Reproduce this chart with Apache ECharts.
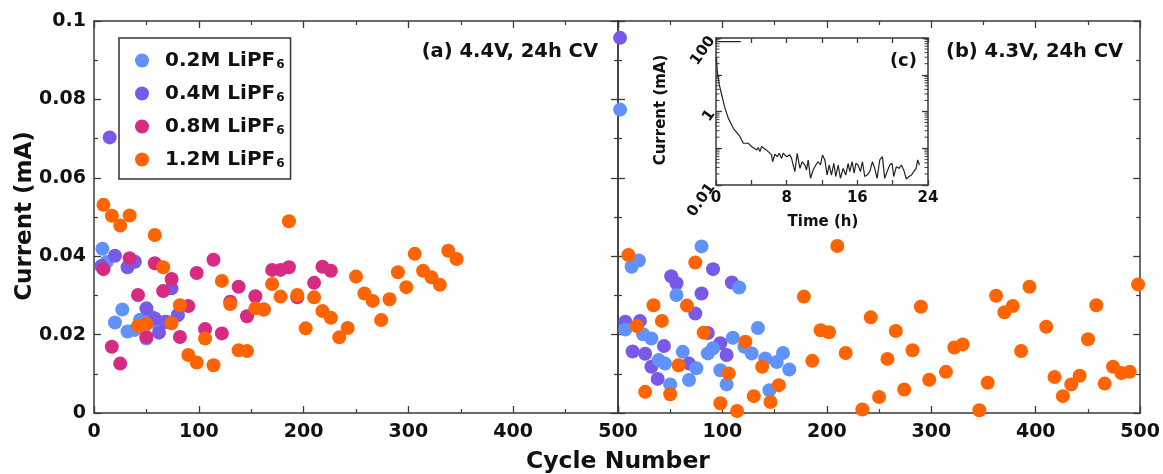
<!DOCTYPE html>
<html>
<head>
<meta charset="utf-8">
<script src="https://cdn.jsdelivr.net/npm/echarts@6/dist/echarts.min.js"></script>
<style>
  html, body { margin: 0; padding: 0; background: #fff; }
  #chart { width: 1163px; height: 474px; }
</style>
</head>
<body>
<div id="chart"></div>
<script>
const FONT = 'DejaVu Sans';
const INK = '#111';
const AXIS = '#3a3a3a';

const seriesNames = ['0.2M LiPF6', '0.4M LiPF6', '0.8M LiPF6', '1.2M LiPF6'];
const seriesColors = ['#5f92fa', '#7859e8', '#d72a82', '#ff6400'];

// (a) 4.4 V, 24 h CV hold: leakage current per cycle
const a02Cycle = [8, 12, 20, 27, 32, 39, 44, 50, 55, 62, 70, 80];
const a02Current = [0.0419, 0.0385, 0.0231, 0.0264, 0.0208, 0.0212, 0.0238, 0.0190, 0.0245, 0.0220, 0.0232, 0.0250];
const a04Cycle = [7, 15, 20, 32, 39, 50, 58, 62, 68, 74, 80];
const a04Current = [0.0375, 0.0703, 0.0401, 0.0372, 0.0386, 0.0267, 0.0241, 0.0205, 0.0233, 0.0318, 0.0250];
const a08Cycle = [9, 17, 25, 34, 42, 50, 58, 66, 74, 82, 90, 98, 106, 114, 122, 130, 138, 146, 154, 162, 170, 178, 186, 194, 210, 218, 226];
const a08Current = [0.0367, 0.0169, 0.0126, 0.0395, 0.0301, 0.0194, 0.0382, 0.0311, 0.0342, 0.0194, 0.0273, 0.0357, 0.0214, 0.0391, 0.0203, 0.0284, 0.0322, 0.0247, 0.0298, 0.0264, 0.0365, 0.0365, 0.0372, 0.0295, 0.0332, 0.0373, 0.0363];
const a12Cycle = [9, 17, 25, 34, 42, 50, 58, 66, 74, 82, 90, 98, 106, 114, 122, 130, 138, 146, 154, 162, 170, 178, 186, 194, 202, 210, 218, 226, 234, 242, 250, 258, 266, 274, 282, 290, 298, 306, 314, 322, 330, 338, 346];
const a12Current = [0.0531, 0.0503, 0.0478, 0.0504, 0.0222, 0.0227, 0.0454, 0.0372, 0.0229, 0.0275, 0.0148, 0.0129, 0.0190, 0.0122, 0.0337, 0.0278, 0.0160, 0.0158, 0.0267, 0.0264, 0.0329, 0.0297, 0.0489, 0.0301, 0.0216, 0.0295, 0.0260, 0.0243, 0.0193, 0.0217, 0.0348, 0.0305, 0.0286, 0.0237, 0.0290, 0.0359, 0.0321, 0.0406, 0.0363, 0.0346, 0.0327, 0.0414, 0.0393];

// (b) 4.3 V, 24 h CV hold
const b02Cycle = [2, 7, 13, 20, 24, 32, 39, 45, 50, 56, 62, 68, 75, 80, 86, 91, 98, 104, 110, 116, 121, 128, 134, 141, 145, 152, 158, 164];
const b02Current = [0.0774, 0.0213, 0.0373, 0.0389, 0.0201, 0.0190, 0.0135, 0.0126, 0.0073, 0.0301, 0.0156, 0.0084, 0.0114, 0.0425, 0.0152, 0.0165, 0.0109, 0.0073, 0.0192, 0.0320, 0.0169, 0.0152, 0.0217, 0.0139, 0.0058, 0.0130, 0.0153, 0.0111];
const b04Cycle = [2, 7, 14, 21, 26, 32, 38, 44, 51, 56, 68, 74, 80, 86, 91, 98, 104, 109];
const b04Current = [0.0957, 0.0233, 0.0157, 0.0235, 0.0151, 0.0118, 0.0087, 0.0171, 0.0349, 0.0331, 0.0126, 0.0254, 0.0305, 0.0204, 0.0367, 0.0178, 0.0148, 0.0333];
const b12Cycle = [10, 18, 26, 34, 42, 50, 58, 66, 74, 82, 98, 106, 114, 122, 130, 138, 146, 154, 178, 186, 194, 202, 210, 218, 234, 242, 250, 258, 266, 274, 282, 290, 298, 314, 322, 330, 346, 354, 362, 370, 378, 386, 394, 410, 418, 426, 434, 442, 450, 458, 466, 474, 482, 490, 498];
const b12Current = [0.0403, 0.0222, 0.0054, 0.0275, 0.0235, 0.0048, 0.0122, 0.0274, 0.0384, 0.0205, 0.0025, 0.0101, 0.0005, 0.0182, 0.0043, 0.0118, 0.0028, 0.0071, 0.0297, 0.0133, 0.0211, 0.0206, 0.0426, 0.0153, 0.0009, 0.0244, 0.0041, 0.0138, 0.0209, 0.0060, 0.0160, 0.0271, 0.0085, 0.0105, 0.0167, 0.0175, 0.0007, 0.0077, 0.0299, 0.0257, 0.0273, 0.0158, 0.0322, 0.0220, 0.0092, 0.0043, 0.0073, 0.0095, 0.0188, 0.0275, 0.0075, 0.0118, 0.0102, 0.0105, 0.0328];

// (c) current decay during one 24 h CV hold
const cvTime = [0.05, 0.15, 0.38, 0.64, 1.02, 1.39, 1.96, 2.71, 3.09, 3.65, 4.03, 4.22, 4.6, 4.79, 4.97, 5.16, 5.43, 5.65, 5.92, 6.29, 6.41, 6.67, 6.93, 7.16, 7.42, 7.61, 7.99, 8.36, 8.55, 8.93, 9.19, 9.5, 9.76, 10.06, 10.25, 10.44, 10.7, 11.0, 11.3, 11.57, 11.83, 12.06, 12.32, 12.58, 12.81, 13.07, 13.34, 13.56, 13.83, 14.09, 14.39, 14.69, 14.96, 15.15, 15.41, 15.64, 15.83, 16.09, 16.35, 16.58, 16.84, 17.11, 17.41, 17.71, 17.97, 18.24, 18.54, 18.84, 19.1, 19.37, 19.67, 19.93, 20.12, 20.42, 20.72, 20.99, 21.25, 21.55, 21.85, 22.12, 22.38, 22.65, 22.84, 22.95, 23.03];
const cvCurrent = [30, 12.3, 5.3, 2.85, 1.23, 0.66, 0.35, 0.21, 0.137, 0.137, 0.111, 0.100, 0.090, 0.104, 0.081, 0.111, 0.100, 0.100, 0.081, 0.066, 0.043, 0.069, 0.059, 0.073, 0.053, 0.073, 0.059, 0.066, 0.053, 0.023, 0.073, 0.0285, 0.043, 0.035, 0.0257, 0.048, 0.0152, 0.0257, 0.035, 0.043, 0.035, 0.066, 0.048, 0.0187, 0.035, 0.0187, 0.039, 0.017, 0.035, 0.0152, 0.0285, 0.0187, 0.039, 0.0231, 0.043, 0.0209, 0.039, 0.035, 0.0231, 0.043, 0.017, 0.0187, 0.0231, 0.043, 0.0285, 0.0152, 0.048, 0.059, 0.0152, 0.0231, 0.035, 0.039, 0.017, 0.0316, 0.0285, 0.035, 0.0257, 0.0146, 0.017, 0.0187, 0.0231, 0.0285, 0.048, 0.053, 0.035];
const ccTime = [0.3, 2.8];
const ccCurrent = [80, 80];

// tick values
const mainYTicks = { min: 0, max: 0.1, interval: 0.02 };
const cycleTicks = { min: 0, max: 500, interval: 100 };
const timeTicks = { min: 0, max: 24, interval: 4 };
const logMinorTicks = [];
[-2, -1, 0, 1].forEach(e => { for (let m = 2; m <= 9; m++) logMinorTicks.push(m * Math.pow(10, e)); });

const zip = (xs, ys) => xs.map((x, i) => [x, ys[i]]);

const chart = echarts.init(document.getElementById('chart'), null, { renderer: 'canvas' });

const line = { show: true, onZero: false, lineStyle: { color: AXIS, width: 1.5 } };
const tick = (len) => ({ show: true, inside: true, length: len, lineStyle: { color: AXIS, width: 1.3 } });
const minor = (n, len) => ({ show: true, splitNumber: n, length: len, lineStyle: { color: AXIS, width: 1.2 } });
const labelFont = { fontFamily: FONT, fontWeight: 'bold', color: INK };

function cycleAxis(grid, pos, showLabels, hideZero) {
  return {
    type: 'value', gridIndex: grid, position: pos, ...cycleTicks,
    axisLine: line, axisTick: tick(7), minorTick: minor(2, 4), splitLine: { show: false },
    axisLabel: showLabels ? { ...labelFont, fontSize: 19, margin: 10,
      formatter: v => (hideZero && v === 0) ? '' : String(v) } : { show: false }
  };
}
function currentAxis(grid, pos, showLabels) {
  return {
    type: 'value', gridIndex: grid, position: pos, ...mainYTicks,
    axisLine: line, axisTick: tick(7), minorTick: minor(2, 4), splitLine: { show: false },
    axisLabel: showLabels ? { ...labelFont, fontSize: 19, margin: 8,
      formatter: v => v === 0 ? '0' : String(parseFloat(v.toFixed(3))) } : { show: false }
  };
}
function timeAxis(pos, showLabels) {
  return {
    type: 'value', gridIndex: 2, position: pos, ...timeTicks,
    axisLine: line, axisTick: tick(5), splitLine: { show: false },
    axisLabel: showLabels ? { ...labelFont, fontSize: 15, margin: 6,
      formatter: v => v % 8 === 0 ? String(v) : '' } : { show: false }
  };
}
function logAxis(pos, showLabels) {
  return {
    type: 'log', logBase: 10, gridIndex: 2, position: pos, min: 0.01, max: 100,
    axisLine: line, axisTick: tick(6), splitLine: { show: false },
    axisLabel: showLabels ? { ...labelFont, fontSize: 15, margin: 4, rotate: 55,
      formatter: v => {
        const e = Math.round(Math.log10(v));
        return e === -2 ? '0.01' : e === 0 ? '1' : e === 2 ? '100' : '';
      } } : { show: false }
  };
}

function scatter(name, idx, xIdx, yIdx, xs, ys, z) {
  return {
    type: 'scatter', name, xAxisIndex: xIdx, yAxisIndex: yIdx,
    data: zip(xs, ys), symbol: 'circle', symbolSize: 14, clip: false, z,
    itemStyle: { color: seriesColors[idx], opacity: 1 }
  };
}

const option = {
  animation: false,
  backgroundColor: '#fff',
  grid: [
    { left: 94, top: 21, width: 524, height: 392 },
    { left: 618, top: 21, width: 524, height: 392 },
    { left: 716, top: 38, width: 212, height: 147, backgroundColor: '#fff', show: true, borderWidth: 0 }
  ],
  xAxis: [
    cycleAxis(0, 'bottom', true, false),
    cycleAxis(0, 'top', false, false),
    cycleAxis(1, 'bottom', true, true),
    cycleAxis(1, 'top', false, false),
    timeAxis('bottom', true),
    timeAxis('top', false)
  ],
  yAxis: [
    currentAxis(0, 'left', true),
    currentAxis(0, 'right', false),
    currentAxis(1, 'left', false),
    currentAxis(1, 'right', false),
    logAxis('left', true),
    logAxis('right', false)
  ],
  legend: {
    data: seriesNames,
    orient: 'vertical', left: 119, top: 38,
    padding: [12, 6, 9, 16], itemGap: 12, itemWidth: 14, itemHeight: 14,
    borderColor: '#333', borderWidth: 1.5, backgroundColor: '#fff',
    formatter: name => '{m|' + name.slice(0, -1) + '}{s|' + name.slice(-1) + '}',
    textStyle: {
      rich: {
        m: { fontFamily: FONT, fontWeight: 'bold', fontSize: 20, color: INK, lineHeight: 22, padding: [0, 0, 0, 11] },
        s: { fontFamily: FONT, fontWeight: 'bold', fontSize: 12, color: INK, lineHeight: 22, padding: [9, 0, 0, 1] }
      }
    }
  },
  series: [
    scatter(seriesNames[0], 0, 0, 0, a02Cycle, a02Current, 2),
    scatter(seriesNames[1], 1, 0, 0, a04Cycle, a04Current, 3),
    scatter(seriesNames[2], 2, 0, 0, a08Cycle, a08Current, 4),
    scatter(seriesNames[3], 3, 0, 0, a12Cycle, a12Current, 5),
    scatter(seriesNames[1], 1, 2, 2, b04Cycle, b04Current, 2),
    scatter(seriesNames[0], 0, 2, 2, b02Cycle, b02Current, 3),
    scatter(seriesNames[3], 3, 2, 2, b12Cycle, b12Current, 5),
    {
      type: 'line', xAxisIndex: 4, yAxisIndex: 4, data: zip(cvTime, cvCurrent),
      showSymbol: false, symbol: 'none', z: 6,
      lineStyle: { color: '#222', width: 1.2 }
    },
    {
      type: 'line', xAxisIndex: 4, yAxisIndex: 4, data: zip(ccTime, ccCurrent),
      showSymbol: false, symbol: 'none', z: 6,
      lineStyle: { color: '#222', width: 1.2 }
    },
    {
      // logarithmic minor ticks on both sides of the inset
      type: 'custom', xAxisIndex: 4, yAxisIndex: 4, silent: true, z: 6,
      data: logMinorTicks.map(v => [0, v]), encode: { x: 0, y: 1 },
      renderItem: (params, api) => {
        const v = api.value(1);
        const l = api.coord([timeTicks.min, v]);
        const r = api.coord([timeTicks.max, v]);
        const st = { stroke: AXIS, lineWidth: 1 };
        return {
          type: 'group', children: [
            { type: 'line', shape: { x1: l[0], y1: l[1], x2: l[0] + 3.5, y2: l[1] }, style: st },
            { type: 'line', shape: { x1: r[0] - 3.5, y1: r[1], x2: r[0], y2: r[1] }, style: st }
          ]
        };
      }
    }
  ],
  graphic: [
    { type: 'text', left: null, x: 598, y: 52, style: { text: '(a) 4.4V, 24h CV', align: 'right', verticalAlign: 'middle', font: 'bold 19.5px "DejaVu Sans"', fill: INK } },
    { type: 'text', x: 946, y: 52, style: { text: '(b) 4.3V, 24h CV', align: 'left', verticalAlign: 'middle', font: 'bold 19.5px "DejaVu Sans"', fill: INK } },
    { type: 'text', x: 917, y: 61, z: 10, style: { text: '(c)', align: 'right', verticalAlign: 'middle', font: 'bold 18px "DejaVu Sans"', fill: INK } },
    { type: 'text', x: 618, y: 462, style: { text: 'Cycle Number', align: 'center', verticalAlign: 'middle', font: 'bold 23.5px "DejaVu Sans"', fill: INK } },
    { type: 'text', x: 25, y: 216, rotation: Math.PI / 2, style: { text: 'Current (mA)', align: 'center', verticalAlign: 'middle', font: 'bold 23px "DejaVu Sans"', fill: INK } },
    { type: 'text', x: 823, y: 222, style: { text: 'Time (h)', align: 'center', verticalAlign: 'middle', font: 'bold 15px "DejaVu Sans"', fill: INK } },
    { type: 'text', x: 661, y: 110, rotation: Math.PI / 2, style: { text: 'Current (mA)', align: 'center', verticalAlign: 'middle', font: 'bold 15px "DejaVu Sans"', fill: INK } }
  ]
};

chart.setOption(option);
</script>
</body>
</html>
